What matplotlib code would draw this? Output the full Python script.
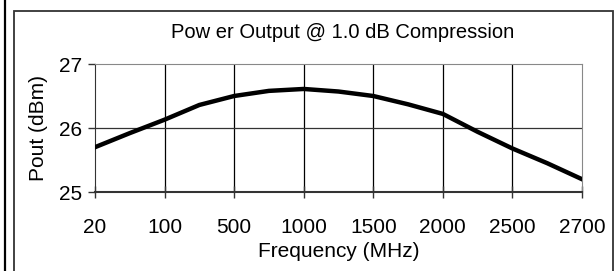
import matplotlib.pyplot as plt
from matplotlib.lines import Line2D
from matplotlib.patches import Rectangle

plt.rcParams['font.family'] = ['Liberation Sans', 'DejaVu Sans']

# category axis: every other category carries a label
freq = ['20', '50', '100', '300', '500', '750', '1000', '1250', '1500',
        '1750', '2000', '2250', '2500', '2600', '2700']
pout = [25.70, 25.92, 26.13, 26.36, 26.50, 26.58, 26.61, 26.57, 26.50,
        26.37, 26.22, 25.94, 25.68, 25.45, 25.20]
tick_labels = ['20', '100', '500', '1000', '1500', '2000', '2500', '2700']
y_ticks = [25, 26, 27]

W, H = 615, 271
fig = plt.figure(figsize=(W / 100, H / 100), dpi=100)
ax = fig.add_axes([95 / W, 1 - 192 / H, (582 - 95) / W, (192 - 64) / H])

x = list(range(len(freq)))
ax.plot(x, pout, color='black', lw=3.2, solid_joinstyle='round', zorder=3)

tick_pos = [i for i, f in enumerate(freq) if f in tick_labels]
ax.set_xlim(0, len(freq) - 1)
ax.set_ylim(25, 27)
ax.set_xticks(tick_pos)
ax.set_xticklabels(tick_labels, fontsize=15)
ax.set_yticks(y_ticks)
ax.set_yticklabels([str(v) for v in y_ticks], fontsize=15)
ax.tick_params(axis='x', direction='inout', length=8, width=1, color='#333333', pad=15)
ax.tick_params(axis='y', direction='out', length=5, width=1, color='#333333', pad=4)

for p in tick_pos[1:-1]:
    ax.axvline(p, color='black', lw=0.9, zorder=1)
ax.axhline(26, color='#333333', lw=0.9, zorder=1)

ax.spines['left'].set_color('#333333')
ax.spines['bottom'].set_color('#333333')
ax.spines['bottom'].set_linewidth(1.5)
ax.spines['top'].set_color('#888888')
ax.spines['right'].set_color('#888888')

ax.set_xlabel('Frequency (MHz)', fontsize=15, labelpad=3)
ax.set_ylabel('Pout (dBm)', fontsize=15, labelpad=8)
fig.text(343 / W, 1 - 33 / H, 'Pow er Output @ 1.0 dB Compression',
         fontsize=14.5, ha='center', va='center')

# outer frame
fig.add_artist(Rectangle((13.5 / W, -0.1), (613 - 13.5) / W, 1.1 - 10.5 / H,
                         transform=fig.transFigure, fill=False,
                         edgecolor='#333333', lw=1.3))
fig.add_artist(Line2D([5 / W, 5 / W], [0, 1], transform=fig.transFigure,
                      color='black', lw=1.6))

fig.savefig('out.png', dpi=100)
